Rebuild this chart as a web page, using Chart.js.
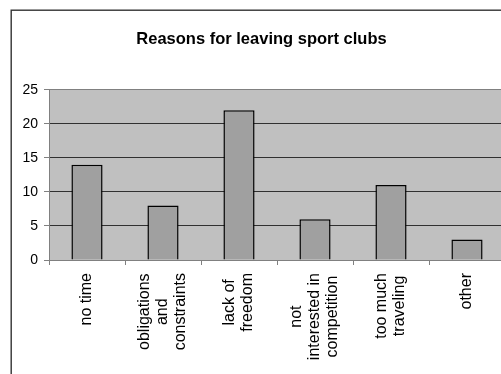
<!DOCTYPE html>
<html>
<head>
<meta charset="utf-8">
<script src="https://cdn.jsdelivr.net/npm/chart.js@4/dist/chart.umd.min.js"></script>
<style>
    html, body { margin: 0; padding: 0; background: #fff; overflow: hidden; }
    canvas { display: block; }
</style>
</head>
<body>
<canvas id="reasonsChart" width="523" height="374"></canvas>
<script>
const categories = [
    ["no time"],
    ["obligations", "and", "constraints"],
    ["lack of", "freedom"],
    ["not", "interested in", "competition"],
    ["too much", "traveling"],
    ["other"],
];
const counts = [14, 8, 22, 6, 11, 3];
const yTicks = [0, 5, 10, 15, 20, 25];

const labelFont = "16px 'Liberation Sans', Arial, sans-serif";

// cornice esterna e sfondo grigio dell'area del grafico
const framePlugin = {
    id: "frame",
    beforeDraw(chart) {
        const ctx = chart.ctx;
        const area = chart.chartArea;
        ctx.save();
        ctx.fillStyle = "#ffffff";
        ctx.fillRect(0, 0, chart.width, chart.height);
        ctx.fillStyle = "#c0c0c0";
        ctx.fillRect(area.left, area.top, area.right - area.left, area.bottom - area.top);
        ctx.strokeStyle = "#333333";
        ctx.lineWidth = 1.4;
        ctx.strokeRect(11.2, 10.2, 600, 600);
        ctx.restore();
    },
};

// etichette ruotate, righe centrate tra loro
const rotatedLabels = {
    id: "rotatedLabels",
    afterDraw(chart) {
        const ctx = chart.ctx;
        const x = chart.scales.x;
        const topY = 273;
        const lineH = 18;
        ctx.save();
        ctx.font = labelFont;
        ctx.fillStyle = "#000000";
        ctx.textAlign = "center";
        ctx.textBaseline = "middle";
        categories.forEach((lines, i) => {
            const cx = x.getPixelForValue(i);
            const maxW = Math.max(...lines.map((l) => ctx.measureText(l).width));
            ctx.save();
            ctx.translate(cx, topY);
            ctx.rotate(-Math.PI / 2);
            lines.forEach((line, j) => {
                ctx.fillText(line, -maxW / 2, (j - (lines.length - 1) / 2) * lineH);
            });
            ctx.restore();
        });
        ctx.restore();
    },
};

const ctx = document.getElementById("reasonsChart").getContext("2d");

new Chart(ctx, {
    type: "bar",
    data: {
        labels: categories.map((l) => l.join(" ")),
        datasets: [
            {
                data: counts,
                backgroundColor: "#a0a0a0",
                borderColor: "#000000",
                borderWidth: 1.5,
                categoryPercentage: 1,
                barPercentage: 0.41,
            },
        ],
    },
    options: {
        responsive: false,
        animation: false,
        layout: { padding: { left: 18, right: 18, top: 0, bottom: 0 } },
        plugins: {
            legend: { display: false },
            tooltip: { enabled: false },
            title: {
                display: true,
                text: "Reasons for leaving sport clubs",
                color: "#000000",
                font: { family: "'Liberation Sans', Arial, sans-serif", size: 16.5, weight: "bold", lineHeight: 1.2 },
                padding: { top: 29.5, bottom: 40.5 },
            },
        },
        scales: {
            x: {
                afterFit(scale) {
                    scale.height = 114;
                },
                ticks: { display: false },
                grid: {
                    drawOnChartArea: false,
                    drawTicks: true,
                    tickLength: 5,
                    tickColor: "#808080",
                    offset: true,
                },
                border: { color: "#808080", width: 1 },
            },
            y: {
                min: 0,
                max: 25,
                afterFit(scale) {
                    scale.width = 31;
                },
                afterBuildTicks(scale) {
                    scale.ticks = yTicks.map((v) => ({ value: v }));
                },
                ticks: {
                    color: "#000000",
                    padding: 6,
                    font: { family: "'Liberation Sans', Arial, sans-serif", size: 14 },
                },
                grid: {
                    color: (c) => (c.tick && (c.tick.value === 0 || c.tick.value === 25) ? "#808080" : "#303030"),
                    tickColor: "#808080",
                    tickLength: 5,
                    lineWidth: 1,
                },
                border: { color: "#808080", width: 1 },
            },
        },
    },
    plugins: [framePlugin, rotatedLabels],
});
</script>
</body>
</html>
